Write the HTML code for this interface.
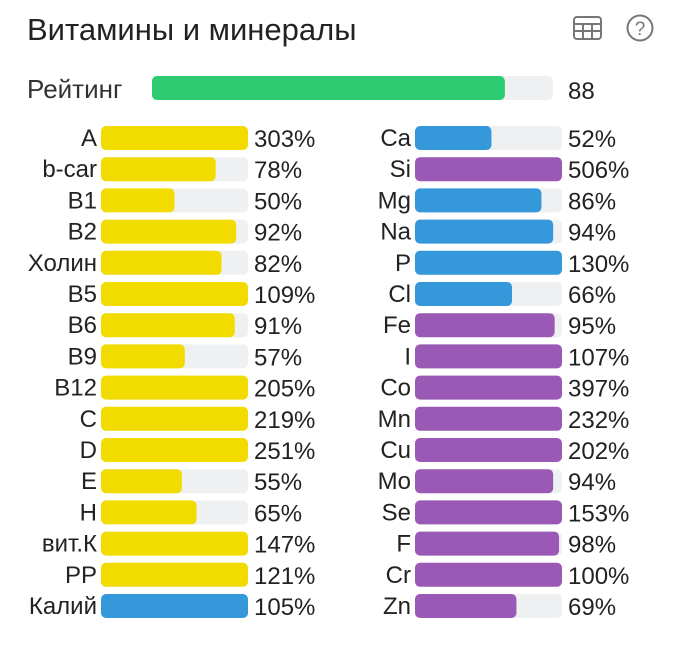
<!DOCTYPE html>
<html><head><meta charset="utf-8"><style>
body{margin:0;background:#fff;width:680px;height:643px;overflow:hidden;font-family:"Liberation Sans","DejaVu Sans",sans-serif}
</style></head><body>
<svg width="680" height="643" id="svg" font-family="Liberation Sans, DejaVu Sans, sans-serif">
<text x="27" y="40" font-size="31" fill="#222">Витамины и минералы</text>
<g fill="none" stroke="#777" stroke-width="2">
<rect x="574" y="17" width="27" height="22" rx="3"/><line x1="574" y1="24" x2="601" y2="24"/><line x1="574" y1="31" x2="601" y2="31"/><line x1="583" y1="24" x2="583" y2="39"/><line x1="592" y1="24" x2="592" y2="39"/>
</g>
<g>
<circle cx="640" cy="28" r="12.5" fill="none" stroke="#777" stroke-width="2"/>
<text x="640" y="35" font-size="19" text-anchor="middle" fill="#777">?</text>
</g>
<text x="27" y="98" font-size="26" fill="#333">Рейтинг</text>
<rect x="152" y="76" width="401" height="24" rx="5" fill="#eef0f2"/>
<rect id="ratingFill" x="152" y="76" width="0" height="24" rx="5" fill="#2ecc71"/>
<text id="ratingVal" x="568" y="99" font-size="24" fill="#222"></text>
<g id="rows"></g>
</svg>
<script>
const rating = 88;
const leftNames = ["A","b-car","B1","B2","Холин","B5","B6","B9","B12","C","D","E","H","вит.К","PP","Калий"];
const leftValues = [303,78,50,92,82,109,91,57,205,219,251,55,65,147,121,105];
const leftColors = ["y","y","y","y","y","y","y","y","y","y","y","y","y","y","y","b"];
const rightNames = ["Ca","Si","Mg","Na","P","Cl","Fe","I","Co","Mn","Cu","Mo","Se","F","Cr","Zn"];
const rightValues = [52,506,86,94,130,66,95,107,397,232,202,94,153,98,100,69];
const rightColors = ["b","p","b","b","b","b","p","p","p","p","p","p","p","p","p","p"];
const COL={y:"#f2dc00",b:"#3498db",p:"#9b59b6"};
const NS="http://www.w3.org/2000/svg";
const rf=document.getElementById('ratingFill');
rf.setAttribute('width',401*Math.min(rating,100)/100);
document.getElementById('ratingVal').textContent=rating;
const g=document.getElementById('rows');
function mk(t,a){const e=document.createElementNS(NS,t);for(const k in a)e.setAttribute(k,a[k]);g.appendChild(e);return e;}
function col(names,vals,cols,bx,side){
  const W=147;
  names.forEach((n,i)=>{
    const y=126+i*31.2;
    const l=mk('text',{x:bx-4,y:y+20,'font-size':24,'text-anchor':'end',fill:'#222'});
    l.textContent=n;
    
    
    const t=mk('rect',{x:bx,y:y,width:W,height:24,rx:5,fill:'#eef0f2'});
    
    
    const b=mk('rect',{x:bx,y:y,width:W*Math.min(vals[i],100)/100,height:24,rx:5,fill:COL[cols[i]]});
    
    
    const v=mk('text',{x:bx+W+6,y:y+21,'font-size':24,fill:'#222'});
    v.textContent=vals[i]+'%';
    
    
  });
}
col(leftNames,leftValues,leftColors,101,'left');
col(rightNames,rightValues,rightColors,415,'right');
</script>
</body></html>
